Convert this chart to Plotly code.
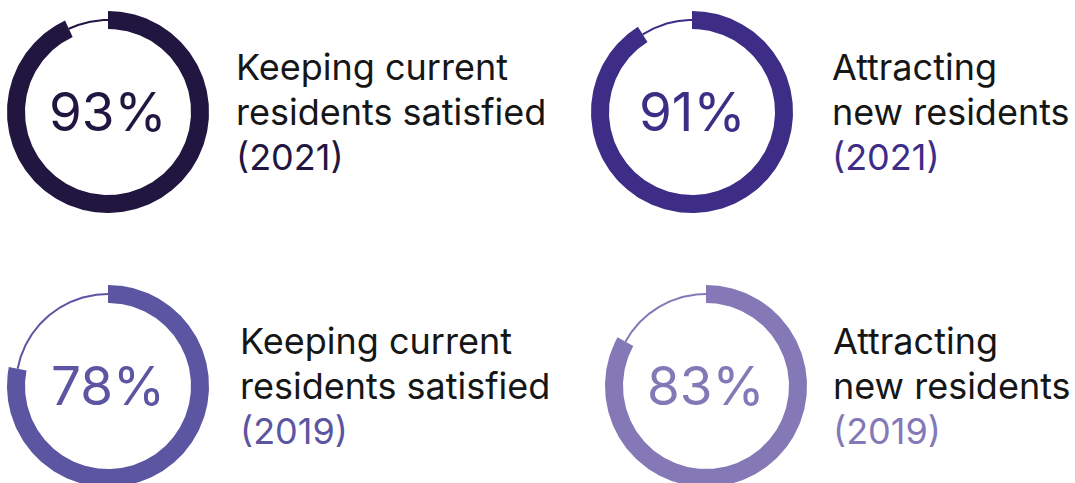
import numpy as np
import plotly.graph_objects as go

# ---- data ----
values = [93, 91, 78, 83]
label_line1 = ["Keeping current", "Attracting", "Keeping current", "Attracting"]
label_line2 = ["residents satisfied", "new residents", "residents satisfied", "new residents"]
years = ["2021", "2021", "2019", "2019"]

# ---- style / layout ----
colors = ["#21163f", "#3e2d86", "#5c55a2", "#8479b6"]
centers = [(108, 112), (692, 112), (108, 386), (706, 386)]
text_x = [234, 830, 238, 831]
R_OUT, R_IN, R_THIN = 101, 83, 92
FONT = "Inter"
W, H = 1075, 483

fig = go.Figure()
annotations = []
for v, l1, l2, yr, col, (cx, cy), tx in zip(values, label_line1, label_line2, years, colors, centers, text_x):
    end = v / 100 * 2 * np.pi
    th = np.linspace(0, end, 300)
    xo = cx + R_OUT * np.sin(th)
    yo = cy - R_OUT * np.cos(th)
    xi = cx + R_IN * np.sin(th[::-1])
    yi = cy - R_IN * np.cos(th[::-1])
    fig.add_trace(go.Scatter(x=np.concatenate([xo, xi, xo[:1]]), y=np.concatenate([yo, yi, yo[:1]]),
                             mode="lines", fill="toself", fillcolor=col, line=dict(width=0, color=col),
                             hoverinfo="skip", showlegend=False))
    th2 = np.linspace(end, 2 * np.pi, 100)
    fig.add_trace(go.Scatter(x=cx + R_THIN * np.sin(th2), y=cy - R_THIN * np.cos(th2),
                             mode="lines", line=dict(width=2, color=col),
                             hoverinfo="skip", showlegend=False))
    annotations.append(dict(x=cx, y=cy, text=f"{v}%", showarrow=False, xanchor="center", yanchor="middle",
                            font=dict(family=FONT, size=53, color=col)))
    for i, (txt, c) in enumerate([(l1, "#161616"), (l2, "#161616"), (f"({yr})", col)]):
        annotations.append(dict(x=tx, y=cy - 45 + 45 * i, text=txt, showarrow=False, xanchor="left",
                                yanchor="middle", font=dict(family=FONT, size=36, color=c)))

fig.update_layout(width=W, height=H, margin=dict(l=0, r=0, t=0, b=0),
                  paper_bgcolor="white", plot_bgcolor="white", annotations=annotations,
                  xaxis=dict(range=[0, W], visible=False, fixedrange=True),
                  yaxis=dict(range=[H, 0], visible=False, fixedrange=True),
                  showlegend=False)
fig.write_html("out.html", config={"displayModeBar": False},
               post_script="document.body.style.margin='0';")
